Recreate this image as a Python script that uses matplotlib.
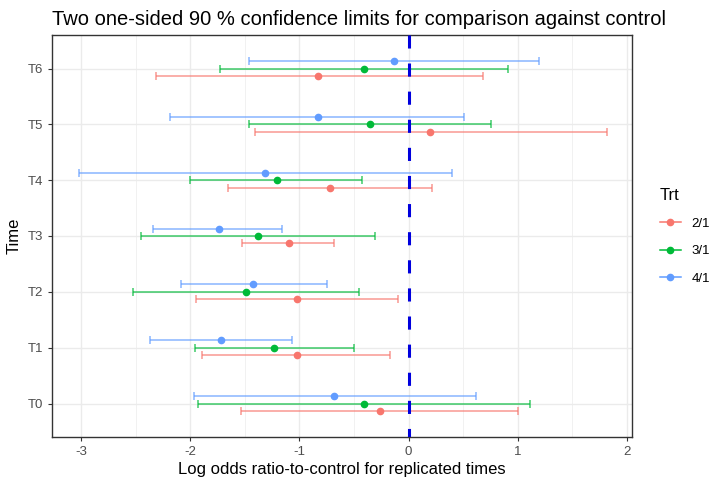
import numpy as np
import matplotlib.pyplot as plt
from matplotlib.lines import Line2D

plt.rcParams['font.family'] = ['Liberation Sans', 'DejaVu Sans']
plt.rcParams['axes.unicode_minus'] = False

times = ['T0', 'T1', 'T2', 'T3', 'T4', 'T5', 'T6']
trts = ['2/1', '3/1', '4/1']

# estimativa, limite inferior, limite superior (por tempo T0..T6)
est_21 = [-0.26, -1.02, -1.02, -1.10, -0.72, 0.20, -0.83]
lo_21 = [-1.54, -1.89, -1.95, -1.53, -1.66, -1.41, -2.32]
hi_21 = [1.00, -0.17, -0.10, -0.68, 0.22, 1.82, 0.68]

est_31 = [-0.41, -1.23, -1.49, -1.38, -1.21, -0.35, -0.41]
lo_31 = [-1.93, -1.96, -2.53, -2.45, -2.00, -1.46, -1.73]
hi_31 = [1.11, -0.50, -0.45, -0.31, -0.43, 0.76, 0.91]

est_41 = [-0.68, -1.72, -1.43, -1.74, -1.32, -0.83, -0.13]
lo_41 = [-1.97, -2.37, -2.09, -2.34, -3.02, -2.19, -1.46]
hi_41 = [0.62, -1.07, -0.75, -1.16, 0.40, 0.51, 1.20]

cores = ['#F8766D', '#00BA38', '#619CFF']
series = [(est_21, lo_21, hi_21), (est_31, lo_31, hi_31), (est_41, lo_41, hi_41)]
offsets = [-0.133, 0.0, 0.133]

fig = plt.figure(figsize=(7.13, 4.82), dpi=100)
ax = fig.add_axes([52 / 713, 1 - 437 / 482, 580 / 713, 402 / 482])

y = np.arange(len(times))
for (est, lo, hi), cor, off in zip(series, cores, offsets):
    est = np.array(est)
    lo = np.array(lo)
    hi = np.array(hi)
    ax.errorbar(est, y + off, xerr=[est - lo, hi - est], fmt='none',
                ecolor=cor, alpha=0.75, elinewidth=1.1, capsize=3, capthick=1.1, zorder=3)
    ax.plot(est, y + off, 'o', color=cor, markersize=4.5, zorder=4)

ax.axvline(0, color='#0000DD', linestyle=(1.5, (4.3, 4.9)), linewidth=2.2, zorder=5)

ax.set_xlim(-3.27, 2.05)
ax.set_ylim(-0.6, 6.6)
ax.set_yticks(y)
ax.set_yticklabels(times)
ax.set_xticks([-3, -2, -1, 0, 1, 2])
ax.set_xticks([-2.5, -1.5, -0.5, 0.5, 1.5], minor=True)
ax.grid(True, which='major', color='#EBEBEB', linewidth=1.0, zorder=0)
ax.grid(True, which='minor', axis='x', color='#EBEBEB', linewidth=0.5, zorder=0)
ax.set_axisbelow(True)
ax.tick_params(which='minor', length=0)
ax.tick_params(which='major', length=3, color='#333333', labelcolor='#4D4D4D', labelsize=9.5)
for s in ax.spines.values():
    s.set_color('#333333')
    s.set_linewidth(1.0)

ax.set_xlabel('Log odds ratio-to-control for replicated times', fontsize=12, color='black', labelpad=3)
ax.set_ylabel('Time', fontsize=12, color='black')
ax.set_title('Two one-sided 90 % confidence limits for comparison against control',
             fontsize=14.5, loc='left', x=0.0, pad=7)

handles = [Line2D([0], [0], color=c, marker='o', markersize=4.5, linewidth=1.1) for c in cores]
leg = fig.legend(handles, trts, title='Trt', loc='center left', bbox_to_anchor=(648 / 713, 0.51),
                 frameon=False, fontsize=9.5, title_fontsize=12, handlelength=1.6,
                 labelspacing=1.15, alignment='left')

plt.savefig('out.png', dpi=100)
